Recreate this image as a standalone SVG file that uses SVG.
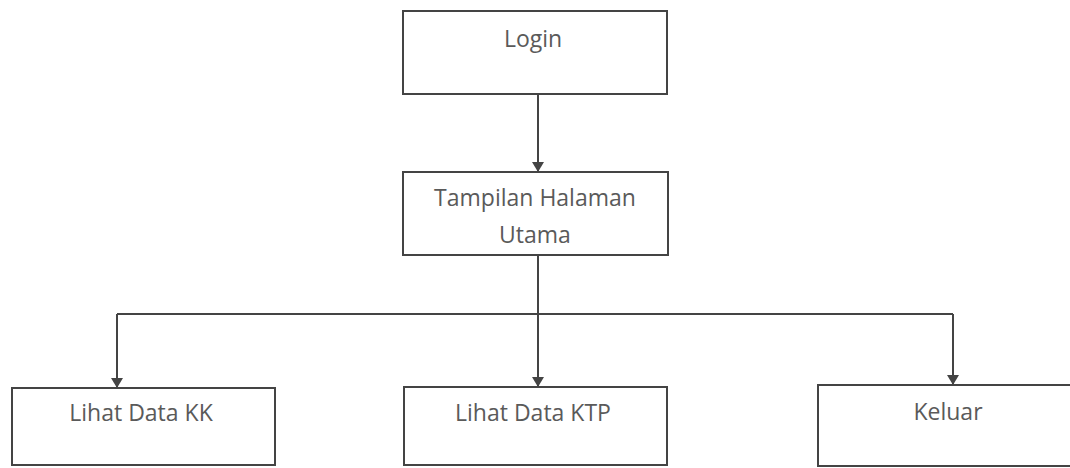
<svg xmlns="http://www.w3.org/2000/svg" width="1070" height="468" viewBox="0 0 1070 468">
<style>
.box{fill:#fff;stroke:#444;stroke-width:2}
.lbl{font-family:"Open Sans","DejaVu Sans",sans-serif;font-size:23px;fill:#5a5a5a;text-anchor:middle}
.con{fill:none;stroke:#444;stroke-width:2}
</style>
<defs>
<marker id="arr" viewBox="0 0 10 12" refX="10" refY="6" markerWidth="10" markerHeight="12" markerUnits="userSpaceOnUse" orient="auto">
<path d="M0,0 L10,6 L0,12 Z" fill="#444"/>
</marker>
</defs>
<rect width="1070" height="468" fill="#fff"/>
<g id="connectors">
<line class="con" x1="538" y1="94" x2="538" y2="172" marker-end="url(#arr)"/>
<line class="con" x1="538" y1="255" x2="538" y2="387" marker-end="url(#arr)"/>
<line class="con" x1="117" y1="314" x2="953" y2="314"/>
<polyline class="con" points="117,314 117,388" marker-end="url(#arr)"/>
<polyline class="con" points="953,314 953,385" marker-end="url(#arr)"/>
</g>
<g id="login">
<rect class="box" x="403" y="11" width="264" height="83"/>
<text class="lbl" x="533" y="47">Login</text>
</g>
<g id="tampilan">
<rect class="box" x="403" y="172" width="265" height="83"/>
<text class="lbl" x="535" y="206">Tampilan Halaman</text>
<text class="lbl" x="535" y="243">Utama</text>
</g>
<g id="lihat-kk">
<rect class="box" x="12" y="388" width="263" height="77"/>
<text class="lbl" x="141" y="421">Lihat Data KK</text>
</g>
<g id="lihat-ktp">
<rect class="box" x="404" y="387" width="263" height="78"/>
<text class="lbl" x="533" y="421">Lihat Data KTP</text>
</g>
<g id="keluar">
<rect class="box" x="818" y="385" width="262" height="81"/>
<text class="lbl" x="948" y="420">Keluar</text>
</g>
</svg>
